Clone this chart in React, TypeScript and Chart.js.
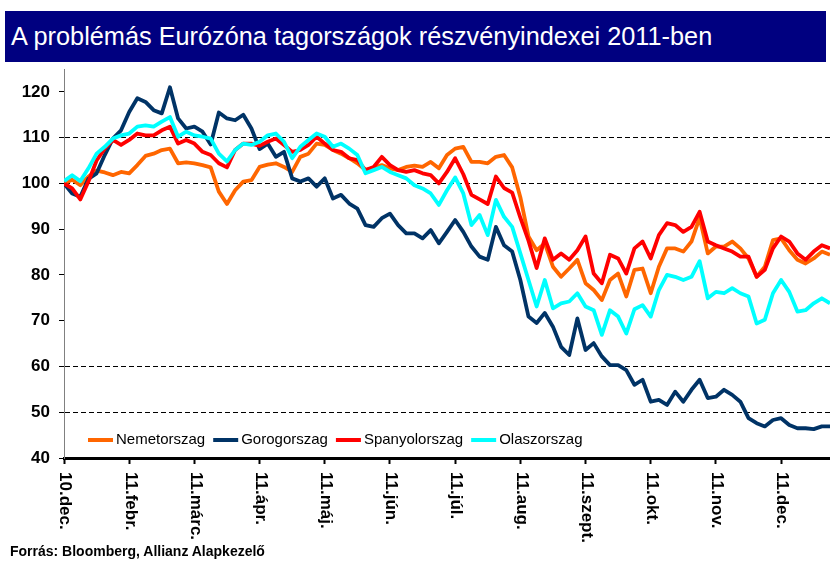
import React, { useEffect, useRef } from 'react';
import { Chart, registerables } from 'chart.js';

Chart.register(...registerables);

// Tick labels on the x axis (one per month interval)
const monthLabels = ['10.dec.', '11.febr.', '11.márc.', '11.ápr.', '11.máj.', '11.jún.', '11.júl.', '11.aug.', '11.szept.', '11.okt.', '11.nov.', '11.dec.'];
const pointsPerMonth = 8;

const seriesNames = ['Nemetorszag', 'Gorogorszag', 'Spanyolorszag', 'Olaszorszag'];
const seriesColors = ['#FF6600', '#003366', '#FF0000', '#00FFFF'];

const nemet = [
  100, 100.8, 99.6, 101.5, 102.8, 102.4, 101.8, 102.5, 102.2, 104,
  106, 106.5, 107.3, 107.6, 104.4, 104.6, 104.4, 104, 103.5, 98.2,
  95.5, 98.5, 100.4, 100.7, 103.6, 104.1, 104.4, 103.6, 102.5, 105.8,
  106.5, 108.7, 108.4, 107.3, 106.5, 105.5, 104.4, 102.9, 103.4, 104,
  103.3, 102.9, 103.6, 103.9, 103.6, 104.7, 103.3, 106.2, 107.6, 108,
  104.7, 104.7, 104.4, 105.8, 106.2, 103.5, 97, 88.4, 85.4, 86.9,
  81.8, 79.6, 81.4, 83.3, 78.2, 76.7, 74.5, 78.9, 80.3, 75.3,
  81.1, 81.4, 76, 81.8, 85.8, 85.8, 85.1, 87.3, 92.5, 84.7,
  86.2, 86.2, 87.3, 85.8, 83.6, 79.6, 81.8, 87.6, 88, 85.4,
  83.3, 82.5, 83.6, 85.1, 84.4,
];

const gorog = [
  100, 97.8, 97.1, 101, 102.2, 106.2, 109.8, 111.6, 115.6, 118.6,
  117.8, 116, 115.3, 121, 114.2, 112, 112.4, 111.3, 108.5, 115.5,
  114.2, 113.8, 115, 112, 107.5, 108.7, 105.8, 106.9, 101.1, 100.4,
  101.1, 99.3, 101.1, 96.7, 97.5, 95.6, 94.5, 90.9, 90.5, 92.4,
  93.4, 90.9, 89.1, 89.1, 88, 89.8, 86.9, 89.4, 92, 89.4,
  86.2, 84, 83.3, 90.5, 86.5, 85.1, 78.9, 70.9, 69.5, 71.7,
  68.7, 64.3, 62.5, 70.5, 63.6, 65.1, 62.2, 60.3, 60.3, 59.2,
  56, 57.1, 52.3, 52.7, 51.6, 54.5, 52.3, 54.9, 57.1, 53.1,
  53.4, 54.9, 53.8, 52.3, 48.7, 47.6, 46.9, 48.3, 48.7, 47.2,
  46.5, 46.5, 46.3, 46.9, 46.9,
];

const spanyol = [
  100, 98.9, 96.5, 100.4, 105, 107.6, 109.5, 108.4, 109.5, 110.9,
  110.5, 110.5, 111.6, 112.4, 108.7, 109.5, 108.7, 106.9, 106.2, 104.4,
  103.5, 107.3, 108.7, 108.7, 108.2, 109.1, 109.8, 108.4, 106.9, 107.3,
  108.4, 110.2, 108.7, 107.3, 106.9, 105.5, 105.1, 102.9, 103.6, 105.8,
  104, 102.9, 102.5, 102.9, 102.2, 101.8, 100, 102.5, 105.5, 102,
  97.5, 96.5, 95.5, 101.5, 99, 98, 92.5, 87.5, 81.5, 88,
  83.3, 84.7, 83.3, 85.4, 88.4, 80.3, 78.2, 84.4, 83.6, 80.3,
  85.8, 87.3, 83.6, 88.7, 91.3, 90.9, 89.4, 90.5, 93.8, 87.3,
  86.5, 85.8, 85.1, 84, 84, 79.6, 81.1, 85.8, 88.4, 87.3,
  84.7, 83.3, 85.1, 86.5, 85.8,
];

const olasz = [
  100.5, 101.8, 100.5, 103.3, 106.5, 108, 109.8, 110.5, 110.9, 112.4,
  112.7, 112.4, 113.5, 114.5, 110.2, 111.3, 110.5, 110.2, 109.8, 106.5,
  104.8, 107.3, 108.7, 108.4, 109.1, 110.5, 110.9, 109.1, 105.5, 108,
  109.5, 110.9, 110.2, 108, 108.7, 107.6, 106.2, 102.2, 102.9, 103.6,
  102.5, 101.8, 101.1, 99.6, 98.9, 97.8, 95.3, 98.5, 101.3, 97.8,
  90.9, 93.1, 88.7, 96.4, 92.7, 90.5, 84.7, 78.9, 73.1, 78.9,
  72.7, 73.8, 74.2, 76, 73.1, 72.3, 66.9, 72.3, 70.9, 67.2,
  72.5, 73.4, 70.9, 76.7, 80, 79.6, 78.9, 79.6, 83, 74.9,
  76.3, 76, 77.1, 76, 75.3, 69.4, 70.2, 76, 78.9, 76.3,
  72, 72.3, 73.8, 74.9, 73.8,
];

const seriesValues = [nemet, gorog, spanyol, olasz];
const yMin = 40;
const yMax = 125;
const yStep = 10;
const dashedLevels = [50, 60, 100, 110];

const FONT = 'Arial, "Liberation Sans", Helvetica, sans-serif';

const overlayPlugin = {
  id: 'overlay',
  afterDraw(chart: any) {
    const ctx = chart.ctx;
    const xs = chart.scales.x;
    const area = chart.chartArea;
    ctx.save();
    // rotated month labels (reading top to bottom)
    ctx.font = 'bold 17px ' + FONT;
    ctx.fillStyle = '#000';
    ctx.textAlign = 'left';
    ctx.textBaseline = 'middle';
    monthLabels.forEach((lab, k) => {
      const px = xs.getPixelForValue(k * pointsPerMonth);
      ctx.save();
      ctx.translate(px + 1, area.bottom + 14);
      ctx.rotate(Math.PI / 2);
      ctx.fillText(lab, 0, 0);
      ctx.restore();
    });
    // legend inside plot
    ctx.font = '15px ' + FONT;
    ctx.textBaseline = 'middle';
    let lx = area.left + 24;
    const ly = area.bottom - 18;
    seriesNames.forEach((name, k) => {
      ctx.strokeStyle = seriesColors[k];
      ctx.lineWidth = 4;
      ctx.beginPath();
      ctx.moveTo(lx, ly);
      ctx.lineTo(lx + 25, ly);
      ctx.stroke();
      ctx.fillStyle = '#000';
      ctx.fillText(name, lx + 28, ly);
      lx += 28 + ctx.measureText(name).width + 8;
    });
    ctx.restore();
  },
};

export default function App() {
  const canvasRef = useRef<HTMLCanvasElement | null>(null);

  useEffect(() => {
    if (!canvasRef.current) return;
    const datasets = seriesNames.map((name, k) => ({
      label: name,
      data: seriesValues[k].map((v, i) => ({ x: i, y: v })),
      borderColor: seriesColors[k],
      backgroundColor: seriesColors[k],
      borderWidth: 3.8,
      pointRadius: 0,
      tension: 0,
      order: seriesNames.length - k,
      borderJoinStyle: 'round' as const,
    }));
    const chart = new Chart(canvasRef.current, {
      type: 'line',
      data: { datasets },
      options: {
        animation: false,
        responsive: false,
        devicePixelRatio: 1,
        layout: { padding: { top: 69, left: 0, right: 0, bottom: 0 } },
        plugins: { legend: { display: false }, tooltip: { enabled: false } },
        scales: {
          x: {
            type: 'linear',
            min: 0,
            max: seriesValues[0].length - 1,
            ticks: { display: false, stepSize: pointsPerMonth },
            afterBuildTicks: (scale: any) => {
              scale.ticks = monthLabels.map((_, k) => ({ value: k * pointsPerMonth }));
            },
            afterFit: (scale: any) => {
              scale.height = 103;
            },
            grid: {
              drawOnChartArea: false,
              drawTicks: true,
              tickLength: 6,
              tickColor: '#000',
              tickWidth: 2,
            },
            border: { color: '#000', width: 3 },
          },
          y: {
            type: 'linear',
            min: yMin,
            max: yMax,
            ticks: {
              stepSize: yStep,
              color: '#000',
              font: { family: FONT, size: 17, weight: 'bold' },
              padding: 9,
            },
            afterBuildTicks: (scale: any) => {
              scale.ticks = scale.ticks.filter((t: any) => t.value % yStep === 0);
            },
            afterFit: (scale: any) => {
              scale.width = 64;
            },
            grid: {
              color: (c: any) => (c.tick && dashedLevels.includes(c.tick.value) ? '#000' : 'rgba(0,0,0,0)'),
              lineWidth: 1,
              drawTicks: true,
              tickLength: 5,
              tickColor: '#000',
            },
            border: { color: '#808080', width: 1, dash: [5, 3] },
          },
        },
      },
      plugins: [overlayPlugin],
    });
    return () => chart.destroy();
  }, []);

  return (
    <div style={{ position: 'fixed', left: 0, top: 0, width: 830, height: 561, background: '#fff', overflow: 'hidden' }}>
      <div
        style={{
          position: 'absolute',
          left: 5,
          top: 11,
          width: 821,
          height: 51,
          background: '#000080',
          color: '#fff',
          fontFamily: FONT,
          fontSize: 25.3,
          lineHeight: '51px',
          paddingLeft: 6,
          boxSizing: 'border-box',
          whiteSpace: 'nowrap',
        }}
      >
        A problémás Eurózóna tagországok részvényindexei 2011-ben
      </div>
      <canvas ref={canvasRef} width={830} height={561} style={{ position: 'absolute', left: 0, top: 0 }} />
      <div
        style={{
          position: 'absolute',
          left: 10,
          top: 543,
          fontFamily: FONT,
          fontSize: 14,
          fontWeight: 'bold',
          lineHeight: '16px',
          color: '#000',
          whiteSpace: 'nowrap',
        }}
      >
        Forrás: Bloomberg, Allianz Alapkezelő
      </div>
    </div>
  );
}
